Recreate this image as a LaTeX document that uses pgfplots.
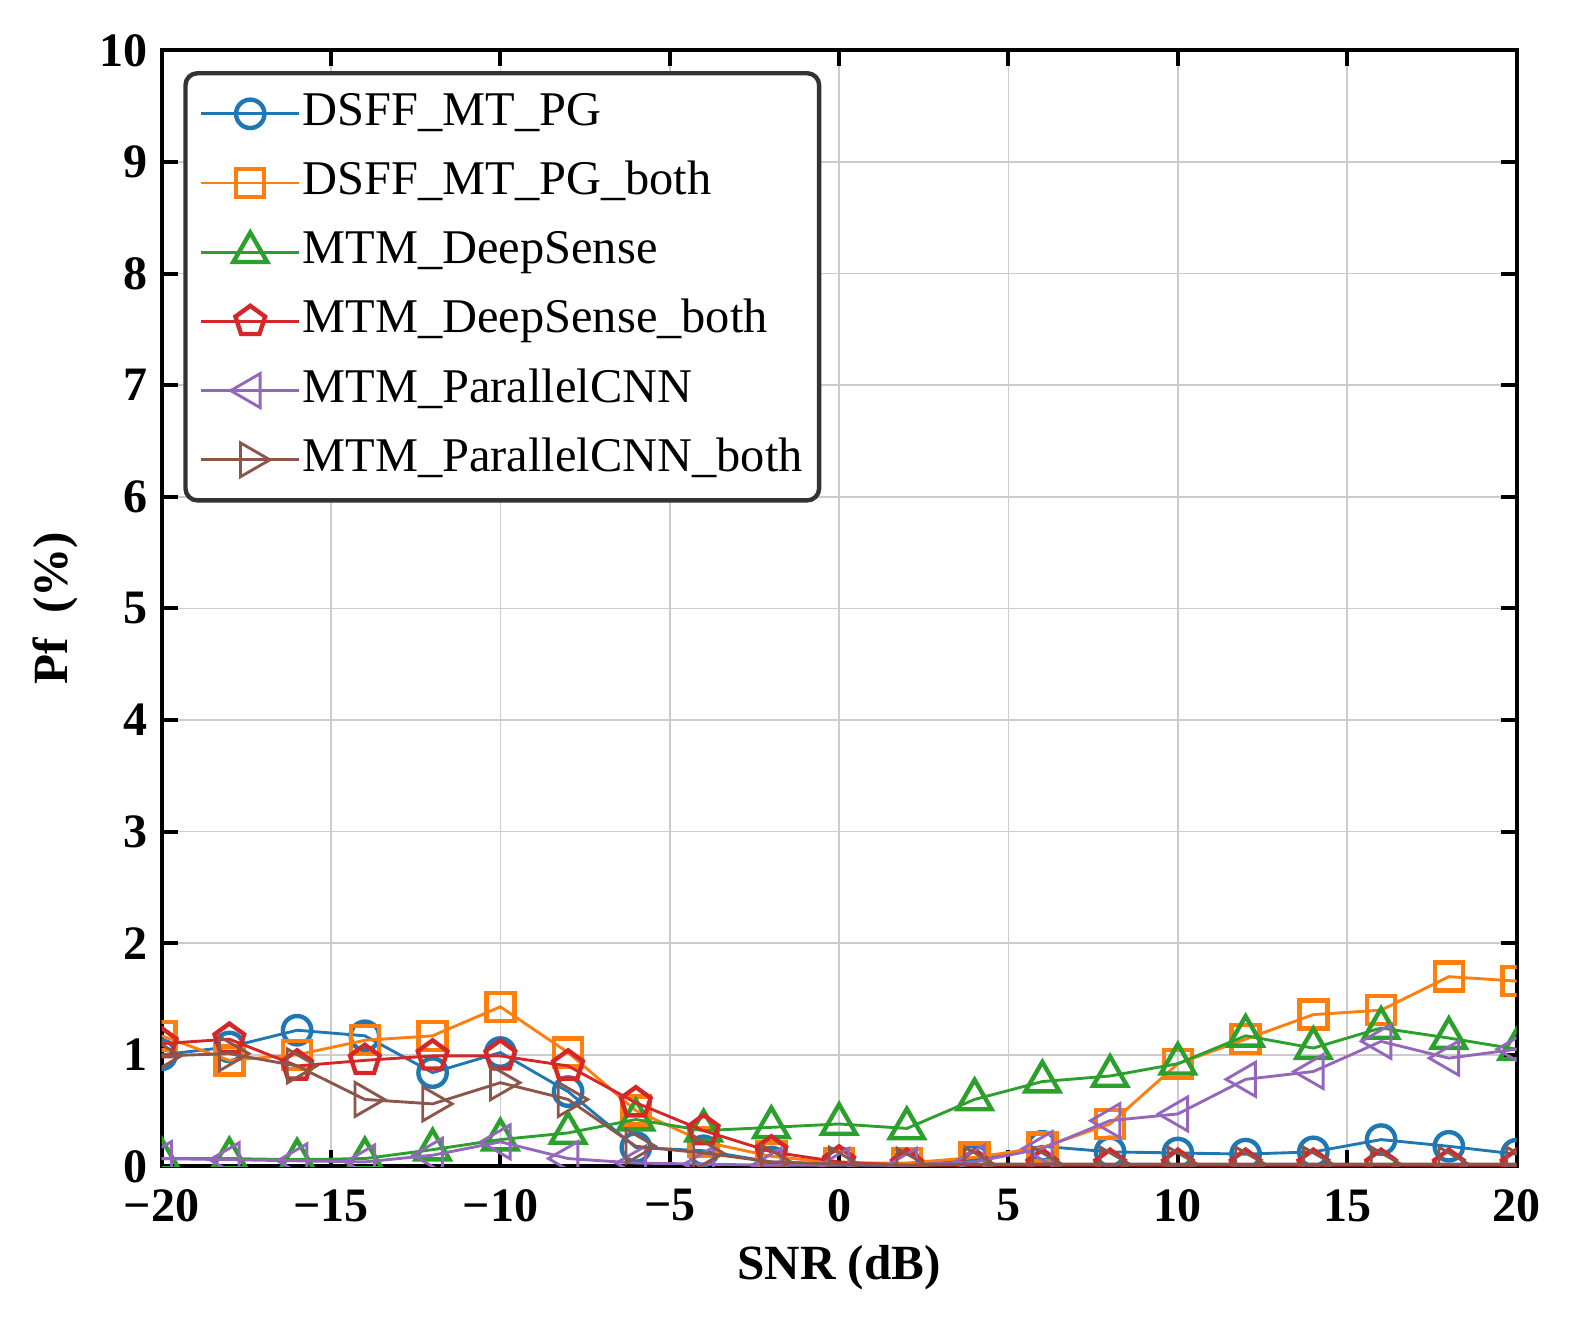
\documentclass[border=0pt]{standalone}
\usepackage{pgfplots}
\pgfplotsset{compat=1.18}
\usetikzlibrary{plotmarks}
\usepackage{fontspec}
\setmainfont{Liberation Serif}
\definecolor{c1}{HTML}{1F77B4}
\definecolor{c2}{HTML}{FF7F0E}
\definecolor{c3}{HTML}{2CA02C}
\definecolor{c4}{HTML}{D62728}
\definecolor{c5}{HTML}{9467BD}
\definecolor{c6}{HTML}{8C564B}
\begin{document}%
\begin{tikzpicture}%
\path (-40.4pt,-39.4pt) rectangle (353.6pt,291.6pt);
\begin{axis}[
  overlay,
  at={(0,0)}, anchor=south west,
  scale only axis, width=338.75pt, height=279pt,
  xmin=-20, xmax=20, ymin=0, ymax=10,
  xtick={-20,-15,...,20},
  xticklabels={−20,−15,−10,−5,0,5,10,15,20},
  ytick={0,1,...,10},
  yticklabels={0,1,2,3,4,5,6,7,8,9,10},
  ticklabel style={font=\fontsize{12}{14}\selectfont\bfseries},
  xticklabel style={yshift=-2.2pt},
  tick align=inside, tick pos=both,
  major tick length=4pt,
  tick style={line width=1pt, black},
  axis line style={line width=1pt, black},
  grid=major,
  grid style={line width=0.4pt, black!20},
  xlabel={SNR (dB)}, ylabel={Pf~~(\%)},
  label style={font=\fontsize{12.3}{14}\selectfont\bfseries},
  xlabel style={at={(axis description cs:0.5,-0.091)}, anchor=center},
  ylabel style={at={(axis description cs:-0.0786,0.5)}, anchor=center},
  clip marker paths=true,
  every axis plot/.append style={line width=0.72pt, mark size=3.55pt, mark options={solid, line width=1.1pt, fill=none}},
  legend style={at={(axis description cs:0.016,0.9815)}, anchor=north west,
    draw=black!80, line width=1.1pt, rounded corners=3pt,
    font=\fontsize{12.1}{14}\selectfont, inner xsep=3.6pt, inner ysep=3pt,
    nodes={inner xsep=0.5pt, inner ysep=1pt, text height=9pt, text depth=3.3pt},
    row sep=3pt, column sep=0pt},
  legend cell align=left,
  legend image code/.code={%
    \draw[#1, mark repeat=2, mark phase=2] plot coordinates {(0cm,0cm) (0.43cm,0cm) (0.86cm,0cm)};%
  },
]
\addplot[c1, mark=o] coordinates {
(-20,1.00) (-18,1.07) (-16,1.22) (-14,1.17) (-12,0.84) (-10,1.02) (-8,0.67) (-6,0.17) (-4,0.14) (-2,0.04)
(0,0.02) (2,0.01) (4,0.06) (6,0.18) (8,0.13) (10,0.12) (12,0.11) (14,0.13) (16,0.24) (18,0.18) (20,0.11)};
\addlegendentry{DSFF\_MT\_PG}
\addplot[c2, mark=square, mark size=3.5pt] coordinates {
(-20,1.17) (-18,0.95) (-16,1.00) (-14,1.13) (-12,1.17) (-10,1.43) (-8,1.02) (-6,0.50) (-4,0.22) (-2,0.09)
(0,0.03) (2,0.03) (4,0.08) (6,0.17) (8,0.38) (10,0.92) (12,1.14) (14,1.36) (16,1.40) (18,1.70) (20,1.66)};
\addlegendentry{DSFF\_MT\_PG\_both}
\addplot[c3, mark=triangle, mark size=4.9pt] coordinates {
(-20,0.07) (-18,0.07) (-16,0.06) (-14,0.07) (-12,0.15) (-10,0.24) (-8,0.30) (-6,0.42) (-4,0.32) (-2,0.35)
(0,0.38) (2,0.34) (4,0.60) (6,0.76) (8,0.81) (10,0.92) (12,1.17) (14,1.06) (16,1.24) (18,1.15) (20,1.05)};
\addlegendentry{MTM\_DeepSense}
\addplot[c4, mark=pentagon, mark size=3.9pt] coordinates {
(-20,1.10) (-18,1.14) (-16,0.90) (-14,0.95) (-12,0.99) (-10,0.99) (-8,0.90) (-6,0.57) (-4,0.32) (-2,0.13)
(0,0.04) (2,0.01) (4,0.01) (6,0.01) (8,0.01) (10,0.01) (12,0.01) (14,0.01) (16,0.01) (18,0.01) (20,0.01)};
\addlegendentry{MTM\_DeepSense\_both}
\addplot[c5, mark=triangle, mark size=4.9pt, mark options={rotate=90}] coordinates {
(-20,0.07) (-18,0.06) (-16,0.05) (-14,0.04) (-12,0.10) (-10,0.22) (-8,0.07) (-6,0.03) (-4,0.02) (-2,0.01)
(0,0.01) (2,0.01) (4,0.04) (6,0.16) (8,0.41) (10,0.47) (12,0.78) (14,0.85) (16,1.12) (18,0.97) (20,1.05)};
\addlegendentry{MTM\_ParallelCNN}
\addplot[c6, mark=triangle, mark size=4.9pt, mark options={rotate=-90}] coordinates {
(-20,0.99) (-18,1.01) (-16,0.90) (-14,0.60) (-12,0.56) (-10,0.75) (-8,0.60) (-6,0.18) (-4,0.12) (-2,0.04)
(0,0.02) (2,0.01) (4,0.02) (6,0.02) (8,0.02) (10,0.02) (12,0.02) (14,0.02) (16,0.02) (18,0.02) (20,0.02)};
\addlegendentry{MTM\_ParallelCNN\_both}
\end{axis}
\end{tikzpicture}%
\end{document}
